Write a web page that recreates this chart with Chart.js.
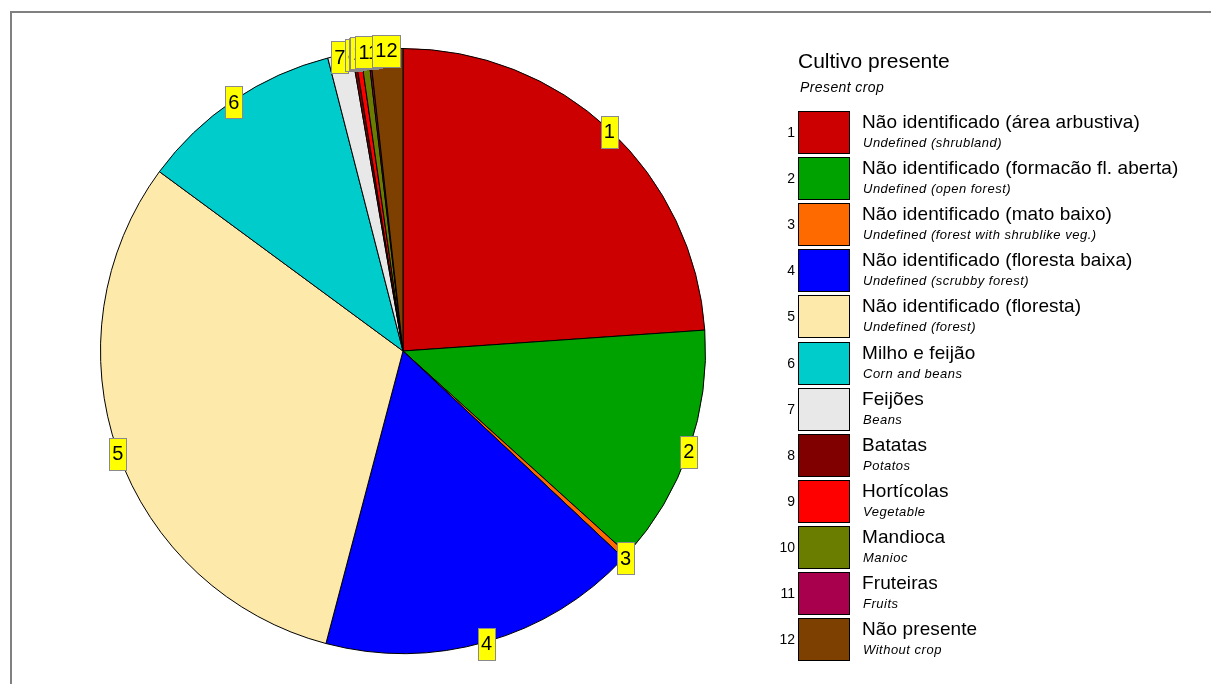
<!DOCTYPE html>
<html>
<head>
<meta charset="utf-8">
<script src="https://cdn.jsdelivr.net/npm/chart.js@4.4.0/dist/chart.umd.min.js"></script>
<style>
html,body{margin:0;padding:0;background:#fff;}
#wrap{position:absolute;left:0;top:0;width:1211px;height:684px;}
</style>
</head>
<body>
<div id="wrap"><canvas id="c" width="1211" height="684"></canvas></div>
<script>
const legendTitle = "Cultivo presente";
const legendSubtitle = "Present crop";
const categories = [
  "Não identificado (área arbustiva)",
  "Não identificado (formacão fl. aberta)",
  "Não identificado (mato baixo)",
  "Não identificado (floresta baixa)",
  "Não identificado (floresta)",
  "Milho e feijão",
  "Feijões",
  "Batatas",
  "Hortícolas",
  "Mandioca",
  "Fruteiras",
  "Não presente"
];
const categoriesEn = [
  "Undefined (shrubland)",
  "Undefined (open forest)",
  "Undefined (forest with shrublike veg.)",
  "Undefined (scrubby forest)",
  "Undefined (forest)",
  "Corn and beans",
  "Beans",
  "Potatos",
  "Vegetable",
  "Manioc",
  "Fruits",
  "Without crop"
];
const codes = ["1","2","3","4","5","6","7","8","9","10","11","12"];
const values = [23.9, 12.8, 0.3, 17.1, 31.0, 10.9, 1.3, 0.15, 0.3, 0.4, 0.1, 1.75];
const colors = ["#cc0000","#00a200","#ff6a00","#0000ff","#fde9aa","#00cccc","#e8e8e8","#800000","#ff0000","#6b7d00","#a8004d","#7d4000"];

const FONT = "'Liberation Sans', Arial, sans-serif";

const extras = {
  id: 'extras',
  beforeDraw(chart) {
    const ctx = chart.ctx;
    ctx.save();
    ctx.fillStyle = '#fff';
    ctx.fillRect(0, 0, chart.width, chart.height);
    ctx.strokeStyle = '#808080';
    ctx.lineWidth = 2;
    ctx.strokeRect(11, 12, 1400, 900);
    ctx.restore();
  },
  afterDatasetsDraw(chart) {
    const ctx = chart.ctx;
    const meta = chart.getDatasetMeta(0);
    ctx.save();
    ctx.font = "20px " + FONT;
    ctx.textAlign = 'center';
    ctx.textBaseline = 'middle';
    meta.data.forEach((arc, i) => {
      const p = arc.getProps(['x','y','startAngle','endAngle','outerRadius'], true);
      const mid = (p.startAngle + p.endAngle) / 2;
      const x = p.x + Math.cos(mid) * p.outerRadius;
      const y = p.y + Math.sin(mid) * p.outerRadius + 2;
      const t = codes[i];
      const w = ctx.measureText(t).width + 6;
      const h = 32;
      ctx.fillStyle = '#ffff00';
      ctx.fillRect(Math.round(x - w/2), Math.round(y - h/2), Math.round(w), h);
      ctx.strokeStyle = '#8a8a8a';
      ctx.lineWidth = 1;
      ctx.strokeRect(Math.round(x - w/2) + 0.5, Math.round(y - h/2) + 0.5, Math.round(w), h);
      ctx.fillStyle = '#000';
      ctx.fillText(t, x, y + 1);
    });
    ctx.restore();
  },
  afterDraw(chart) {
    const ctx = chart.ctx;
    const ds = chart.data.datasets[0];
    ctx.save();
    ctx.fillStyle = '#000';
    ctx.textAlign = 'left';
    ctx.textBaseline = 'alphabetic';
    ctx.font = "21px " + FONT;
    ctx.fillText(legendTitle, 798, 68);
    ctx.font = "italic 14px " + FONT;
    ctx.letterSpacing = '0.4px';
    ctx.fillText(legendSubtitle, 800, 92);
    ctx.letterSpacing = '0px';
    const x0 = 798, y0 = 111, pitch = 46.1, bw = 51, bh = 42;
    chart.data.labels.forEach((lab, i) => {
      const y = Math.round(y0 + i * pitch);
      ctx.fillStyle = ds.backgroundColor[i];
      ctx.fillRect(x0, y, bw, bh);
      ctx.strokeStyle = '#000';
      ctx.lineWidth = 1;
      ctx.strokeRect(x0 + 0.5, y + 0.5, bw, bh);
      ctx.fillStyle = '#000';
      ctx.font = "14px " + FONT;
      ctx.letterSpacing = '0px';
      ctx.textAlign = 'right';
      ctx.textBaseline = 'middle';
      ctx.fillText(codes[i], 795, y + bh/2 + 1);
      ctx.textAlign = 'left';
      ctx.textBaseline = 'alphabetic';
      ctx.font = "19px " + FONT;
      ctx.letterSpacing = '0.1px';
      ctx.fillText(lab, 862, y + 17);
      ctx.font = "italic 13px " + FONT;
      ctx.letterSpacing = '0.5px';
      ctx.fillText(categoriesEn[i], 863, y + 36);
      ctx.letterSpacing = '0px';
    });
    ctx.restore();
  }
};

new Chart(document.getElementById('c'), {
  type: 'pie',
  data: {
    labels: categories,
    datasets: [{
      data: values,
      backgroundColor: colors,
      borderColor: '#000',
      borderWidth: 1,
      borderAlign: 'center'
    }]
  },
  options: {
    responsive: false,
    animation: false,
    events: [],
    layout: { padding: { left: 100, top: 48, right: 505, bottom: 30 } },
    plugins: { legend: { display: false }, tooltip: { enabled: false } }
  },
  plugins: [extras]
});
</script>
</body>
</html>
